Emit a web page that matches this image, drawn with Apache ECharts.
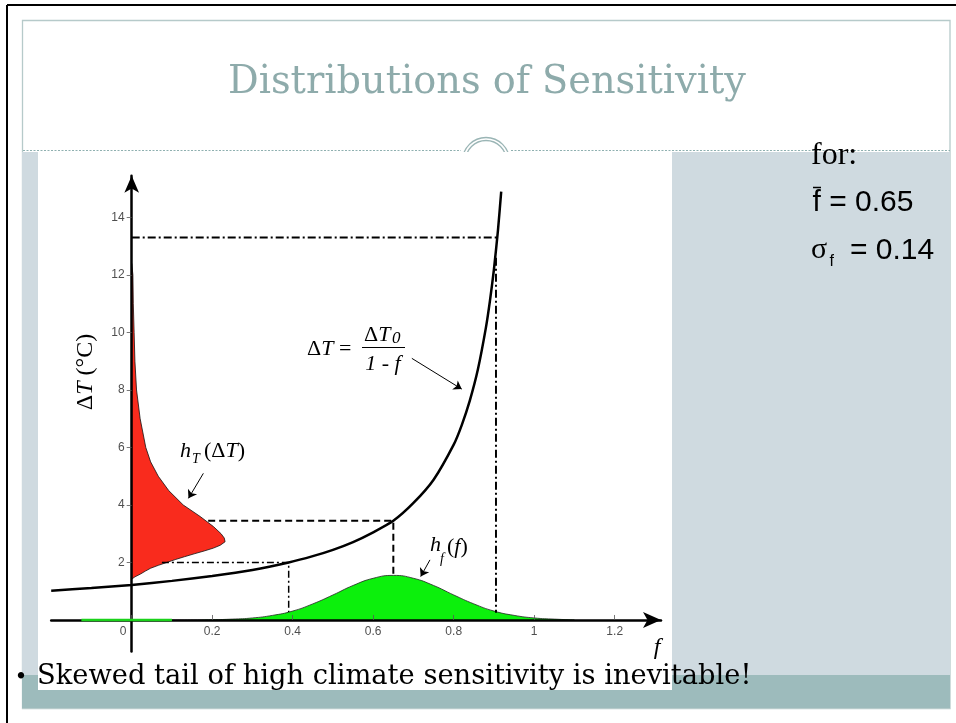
<!DOCTYPE html>
<html>
<head>
<meta charset="utf-8">
<title>Distributions of Sensitivity</title>
<script src="https://cdn.jsdelivr.net/npm/echarts@6/dist/echarts.min.js"></script>
<style>
  html, body { margin: 0; padding: 0; background: #fff; }
  #main { width: 956px; height: 723px; }
</style>
</head>
<body>
<div id="main"></div>
<script>
// warming curve dT = dT0 / (1 - f)
var curveF = [-0.2, -0.1, 0, 0.1, 0.2, 0.3, 0.39, 0.45, 0.5, 0.55, 0.6, 0.65, 0.7, 0.75, 0.8, 0.82, 0.84, 0.86, 0.88, 0.89, 0.9, 0.91, 0.918];
var curveT = [1.02, 1.11, 1.22, 1.36, 1.53, 1.74, 2.0, 2.22, 2.44, 2.71, 3.05, 3.45, 4.07, 4.88, 6.1, 6.78, 7.63, 8.71, 10.17, 11.1, 12.2, 13.56, 14.9];

// h_f(f), green bump on the f axis
var hfF = [0.1, 0.2, 0.25, 0.3, 0.35, 0.4, 0.45, 0.5, 0.55, 0.6, 0.65, 0.7, 0.75, 0.8, 0.85, 0.9, 0.95, 1.0, 1.05, 1.1];
var hfVal = [0, 0.01, 0.03, 0.07, 0.16, 0.31, 0.56, 0.87, 1.2, 1.45, 1.55, 1.45, 1.2, 0.87, 0.56, 0.31, 0.16, 0.07, 0.03, 0];
var greenTailF = [-0.125, 0.1];

// h_T(dT), red shape lying on the dT axis
var htT = [1.42, 1.5, 1.6, 1.7, 1.8, 1.9, 2.0, 2.1, 2.2, 2.3, 2.4, 2.5, 2.6, 2.72, 2.85, 3.0, 3.25, 3.6, 4.0, 4.5, 5.0, 5.5, 6.0, 7.0, 8.0, 9.0, 10, 11, 12, 12.4];
var htVal = [0, 0.008, 0.022, 0.034, 0.047, 0.066, 0.087, 0.108, 0.131, 0.155, 0.18, 0.203, 0.22, 0.232, 0.23, 0.222, 0.203, 0.17, 0.128, 0.092, 0.066, 0.047, 0.035, 0.021, 0.012, 0.008, 0.006, 0.004, 0.003, 0];

// guide lines
var meanGuide = [[0.19, 3.45], [0.65, 3.45], [0.65, 1.55]];
var lowGuide = [[0.075, 2.0], [0.39, 2.0], [0.39, 0.28]];
var highGuideH = [[0, 13.3], [0.908, 13.3]];
var highGuideV = [[0.905, 12.6], [0.905, 0.25]];

// little pointer arrows next to the labels
var pointerArrows = [
  [[0.696, 9.1], [0.82, 8.03]],
  [[0.178, 5.1], [0.141, 4.23]],
  [[0.741, 2.09], [0.718, 1.51]]
];

var xTicks = [0, 0.2, 0.4, 0.6, 0.8, 1, 1.2];
var yTicks = [2, 4, 6, 8, 10, 12, 14];

var SERIF = 'Liberation Serif';
var SANS = 'Liberation Sans';

function pairs(a, b) {
  return a.map(function (v, i) { return [v, b[i]]; });
}

// font size that makes a text a given width
function fitFont(text, family, width) {
  var ctx = document.createElement('canvas').getContext('2d');
  ctx.font = '100px "' + family + '"';
  return 100 * width / ctx.measureText(text).width;
}

function txt(x, y, text, size, opts) {
  opts = opts || {};
  return {
    type: 'text', x: x, y: y, z: 50, rotation: opts.rotation || 0,
    style: {
      text: text,
      fontFamily: opts.family || SERIF,
      fontSize: size,
      fontStyle: opts.italic ? 'italic' : 'normal',
      fill: opts.color || '#000',
      align: opts.align || 'left', textAlign: opts.align || 'left',
      verticalAlign: 'middle', textVerticalAlign: 'middle',
      rich: opts.rich
    }
  };
}

var mathRich = function (size) {
  return {
    n: { fontFamily: SERIF, fontSize: size, fill: '#000', color: '#000' },
    i: { fontFamily: SERIF, fontSize: size, fontStyle: 'italic', fill: '#000', color: '#000' }
  };
};

var tickFont = { color: '#222', fontSize: 12, fontFamily: SANS };

var titleText = 'Distributions of Sensitivity';
var bulletText = 'Skewed tail of high climate sensitivity is inevitable!';
var titleSize = fitFont(titleText, 'DejaVu Serif', 518);
var bulletSize = fitFont(bulletText, 'DejaVu Serif', 715);

var panel = '#cfdae0';
var frame = '#b6caca';

var chart = echarts.init(document.getElementById('main'));

chart.setOption({
  animation: false,
  backgroundColor: '#fff',
  grid: { left: 51.2, top: 175.8, width: 609.8, height: 475.8 },
  xAxis: {
    type: 'value', min: -0.2, max: 1.315, z: 5,
    axisLine: { onZero: true, symbol: ['none', 'arrow'], symbolSize: [12, 18], lineStyle: { color: '#000', width: 2.5 } },
    axisTick: { show: true, inside: true, length: 5, customValues: xTicks, lineStyle: { color: '#555', width: 0.8 } },
    axisLabel: { show: false },
    splitLine: { show: false }
  },
  yAxis: {
    type: 'value', min: -1.1, max: 15.45, z: 5,
    axisLine: { onZero: true, symbol: ['none', 'arrow'], symbolSize: [11, 17], lineStyle: { color: '#000', width: 2.5 } },
    axisTick: { show: true, length: 5, customValues: yTicks, lineStyle: { color: '#555', width: 0.8 } },
    axisLabel: { show: false },
    splitLine: { show: false }
  },
  series: [
    {
      name: 'h_f', type: 'line', data: pairs(hfF, hfVal), smooth: true, showSymbol: false, z: 2,
      lineStyle: { color: '#222', width: 0.8 },
      itemStyle: { color: '#222' },
      areaStyle: { color: '#0cf00c', opacity: 1 }
    },
    {
      name: 'green tail', type: 'line', data: greenTailF.map(function (f) { return [f, 0]; }),
      showSymbol: false, z: 6, lineStyle: { color: '#1ad21a', width: 2.5 }
    },
    {
      name: 'h_T', type: 'custom', z: 2,
      data: pairs(htVal, htT),
      renderItem: function (params, api) {
        if (params.dataIndex !== 0) return null;
        var pts = pairs(htVal, htT).map(function (p) { return api.coord(p); });
        return {
          type: 'polygon',
          shape: { points: pts },
          style: { fill: '#f92b1d', stroke: '#111', lineWidth: 0.8 }
        };
      }
    },
    {
      name: 'mean guide', type: 'line', data: meanGuide, showSymbol: false, z: 3,
      lineStyle: { color: '#000', width: 2, type: [7, 4] }
    },
    {
      name: 'low guide', type: 'line', data: lowGuide, showSymbol: false, z: 3,
      lineStyle: { color: '#000', width: 1.5, type: [7, 3, 2, 3] }
    },
    {
      name: 'high guide', type: 'line', data: highGuideH, showSymbol: false, z: 3,
      lineStyle: { color: '#000', width: 2, type: [8, 3, 2, 3] }
    },
    {
      name: 'high guide v', type: 'line', data: highGuideV, showSymbol: false, z: 3,
      lineStyle: { color: '#000', width: 2, type: [8, 3, 2, 3] }
    },
    {
      name: 'dT curve', type: 'line', data: pairs(curveF, curveT), smooth: 0.2, showSymbol: false, z: 4,
      lineStyle: { color: '#000', width: 2.5 },
      markLine: {
        silent: true, symbol: ['none', 'arrow'], symbolSize: 8,
        label: { show: false },
        lineStyle: { color: '#000', width: 1, type: 'solid' },
        data: pointerArrows.map(function (s) { return [{ coord: s[0] }, { coord: s[1] }]; })
      }
    },
    // tick labels sit next to the axis lines that cross at zero
    {
      name: 'x tick labels', type: 'scatter', symbolSize: 0, silent: true, z: 6,
      data: xTicks.map(function (v) { return [v, 0]; }),
      label: {
        show: true, position: 'bottom', distance: 6, color: tickFont.color, fontSize: tickFont.fontSize, fontFamily: SANS,
        formatter: function (p) { return p.value[0] === 0 ? '{z|0}' : String(p.value[0]); },
        rich: { z: { color: tickFont.color, fontSize: tickFont.fontSize, fontFamily: SANS, padding: [0, 17, 0, 0] } }
      }
    },
    {
      name: 'y tick labels', type: 'scatter', symbolSize: 0, silent: true, z: 6,
      data: yTicks.map(function (v) { return [0, v]; }),
      label: {
        show: true, position: 'left', distance: 7, color: tickFont.color, fontSize: tickFont.fontSize, fontFamily: SANS,
        formatter: function (p) { return String(p.value[1]); }
      }
    }
  ],
  graphic: [
    // slide frame
    { type: 'line', z: -10, shape: { x1: 7, y1: 5, x2: 956, y2: 5 }, style: { stroke: '#000', lineWidth: 2 } },
    { type: 'line', z: -10, shape: { x1: 7, y1: 5, x2: 7, y2: 723 }, style: { stroke: '#000', lineWidth: 2 } },
    { type: 'rect', z: -10, shape: { x: 22.5, y: 20.5, width: 927.5, height: 688 }, style: { fill: 'none', stroke: frame, lineWidth: 1.3 } },
    { type: 'line', z: -10, shape: { x1: 23, y1: 150.5, x2: 461, y2: 150.5 }, style: { stroke: '#8fb0b0', lineWidth: 1, lineDash: [2, 1.5] } },
    { type: 'line', z: -10, shape: { x1: 511, y1: 150.5, x2: 950, y2: 150.5 }, style: { stroke: '#8fb0b0', lineWidth: 1, lineDash: [2, 1.5] } },
    { type: 'circle', z: -10, shape: { cx: 486, cy: 161, r: 23.5 }, style: { fill: '#fff', stroke: '#9ab5b5', lineWidth: 1.3 } },
    { type: 'circle', z: -10, shape: { cx: 486, cy: 161, r: 20.5 }, style: { fill: 'none', stroke: '#9ab5b5', lineWidth: 1.3 } },
    { type: 'rect', z: -10, shape: { x: 22, y: 152, width: 16, height: 523 }, style: { fill: panel } },
    { type: 'rect', z: -10, shape: { x: 672, y: 152, width: 278, height: 523 }, style: { fill: panel } },
    { type: 'rect', z: -10, shape: { x: 22, y: 675, width: 928, height: 33 }, style: { fill: '#9dbbbc' } },
    { type: 'rect', z: -9, shape: { x: 38, y: 152, width: 634, height: 538 }, style: { fill: '#fff' } },

    txt(487, 83, titleText, titleSize, { family: 'DejaVu Serif', align: 'center', color: '#8eabab' }),
    txt(21, 678, '\u2022', 22, { family: 'DejaVu Serif', align: 'center' }),
    txt(37, 677, bulletText, bulletSize, { family: 'DejaVu Serif' }),

    // right panel notes
    txt(811, 156, 'for:', 32, { family: SERIF }),
    txt(812.5, 203, 'f = 0.65', 30, { family: SANS }),
    { type: 'line', z: 50, shape: { x1: 813, y1: 187.5, x2: 821, y2: 187.5 }, style: { stroke: '#000', lineWidth: 1.5 } },
    txt(811, 250.5, '\u03c3', 30, { family: SERIF }),
    txt(829.5, 262, 'f', 16, { family: SANS }),
    txt(850, 250.5, '= 0.14', 30, { family: SANS }),

    // axis names
    txt(86, 372, '{n|\u0394}{i|T}{n| (\u00b0C)}', 24, { align: 'center', rotation: Math.PI / 2, rich: mathRich(24) }),
    txt(657, 648, 'f', 24, { italic: true, align: 'center' }),

    // formula dT = dT0 / (1 - f)
    txt(307, 349, '{n|\u0394}{i|T}{n| = }', 22, { rich: mathRich(22) }),
    txt(364, 335, '{n|\u0394}{i|T}', 22, { rich: mathRich(22) }),
    txt(392, 339, '0', 17, { italic: true }),
    { type: 'line', z: 50, shape: { x1: 362, y1: 347.5, x2: 405, y2: 347.5 }, style: { stroke: '#000', lineWidth: 1 } },
    txt(383, 364, '{i|1}{n| - }{i|f}', 22, { align: 'center', rich: mathRich(22) }),

    // h_T(dT)
    txt(180, 451, 'h', 22, { italic: true }),
    txt(192, 459, 'T', 14, { italic: true }),
    txt(204, 451, '{n|(\u0394}{i|T}{n|)}', 22, { rich: mathRich(22) }),

    // h_f(f)
    txt(430, 545, 'h', 22, { italic: true }),
    txt(440, 559, 'f', 14, { italic: true }),
    txt(447, 547, '{n|(}{i|f}{n|)}', 22, { rich: mathRich(22) })
  ]
});
</script>
</body>
</html>
